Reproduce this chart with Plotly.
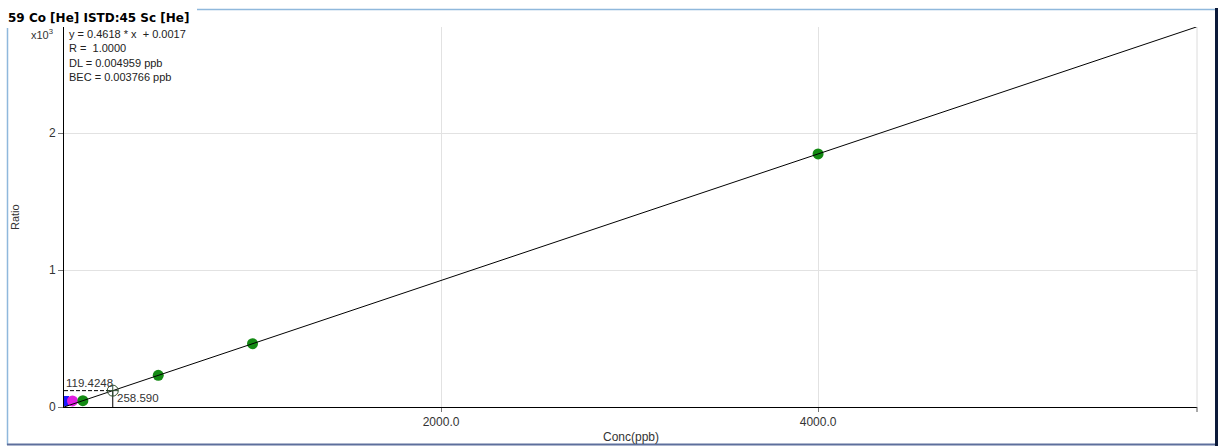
import plotly.graph_objects as go

# Calibration standards (concentration in ppb, ratio to ISTD)
std_conc = [100, 500, 1000, 4000]
std_ratio = [46.2, 231.0, 461.8, 1847.2]

# Blank and low-level QC points
blank_conc = [0]
blank_ratio = [44.0]
qc_conc = [45]
qc_ratio = [44.0]

# Regression result
slope = 0.4618
intercept = 0.0017
fit_x = [0, 6010]

# Read-back point
probe_conc = 258.590
probe_ratio = 119.4248

info_lines = ["y = 0.4618 * x  + 0.0017", "R =  1.0000",
              "DL = 0.004959 ppb", "BEC = 0.003766 ppb"]

SCALE = 1000.0  # y axis shown in units of x10^3

W, H = 1222, 447
L, R, T, B = 64, 25, 27, 40
PW, PH = W - L - R, H - T - B


def xp(px):
    return (px - L) / PW


def yp(py):
    return (H - B - py) / PH


FONT = "Liberation Sans"

fig = go.Figure()

fig.add_trace(go.Scatter(
    x=blank_conc, y=[v / SCALE for v in blank_ratio], mode="markers",
    marker=dict(symbol="square", size=10, color="#1a1aff")))
fig.add_trace(go.Scatter(
    x=qc_conc, y=[v / SCALE for v in qc_ratio], mode="markers",
    marker=dict(symbol="circle", size=11, color="#e01ee0")))
fig.add_trace(go.Scatter(
    x=std_conc, y=[v / SCALE for v in std_ratio], mode="markers",
    marker=dict(symbol="circle", size=11, color="#138a13")))

# Fitted calibration line, drawn over the markers
fig.add_trace(go.Scatter(
    x=fit_x, y=[(slope * v + intercept) / SCALE for v in fit_x],
    mode="lines", line=dict(color="black", width=1), hoverinfo="skip"))

# Dashed read-back guide and vertical drop line
fig.add_trace(go.Scatter(
    x=[0, probe_conc], y=[probe_ratio / SCALE] * 2, mode="lines",
    line=dict(color="black", width=1, dash="4px,2px"), hoverinfo="skip"))
fig.add_trace(go.Scatter(
    x=[probe_conc, probe_conc], y=[-0.02, probe_ratio / SCALE], mode="lines",
    line=dict(color="black", width=1), hoverinfo="skip", cliponaxis=False))
fig.add_trace(go.Scatter(
    x=[probe_conc], y=[probe_ratio / SCALE], mode="markers",
    marker=dict(symbol="circle-cross-open", size=11,
                color="#2f4f2f", line=dict(width=1))))

fig.add_annotation(x=2, y=probe_ratio / SCALE, xref="x", yref="y",
                   text=f"{probe_ratio:.4f}", showarrow=False,
                   xanchor="left", yanchor="bottom", yshift=0,
                   font=dict(family=FONT, size=11.5, color="#333333"))
fig.add_annotation(x=probe_conc, y=0, xref="x", yref="y",
                   text=f"{probe_conc:.3f}", showarrow=False,
                   xanchor="left", yanchor="bottom", xshift=2, yshift=1,
                   font=dict(family=FONT, size=11.5, color="#333333"))

# Title, exponent label and regression info
fig.add_annotation(x=xp(6), y=yp(18), xref="paper", yref="paper",
                   text="<b>59 Co [He] ISTD:45 Sc [He]</b>", showarrow=False,
                   xanchor="left", yanchor="middle",
                   font=dict(family="DejaVu Sans", size=12, color="black"))
fig.add_annotation(x=xp(55), y=yp(34), xref="paper", yref="paper",
                   text="x10<sup>3</sup>", showarrow=False,
                   xanchor="right", yanchor="middle",
                   font=dict(family=FONT, size=11, color="#333333"))
for i, line in enumerate(info_lines):
    fig.add_annotation(x=xp(67), y=yp(34 + i * 14.3), xref="paper", yref="paper",
                       text=line, showarrow=False, xanchor="left", yanchor="middle",
                       font=dict(family=FONT, size=11, color="#222222"))

# Axis titles
fig.add_annotation(x=0.5, y=yp(437), xref="paper", yref="paper",
                   text="Conc(ppb)", showarrow=False,
                   xanchor="center", yanchor="middle",
                   font=dict(family=FONT, size=12, color="#333333"))
fig.add_annotation(x=xp(15), y=0.5, xref="paper", yref="paper",
                   text="Ratio", showarrow=False, textangle=-90,
                   xanchor="center", yanchor="middle",
                   font=dict(family=FONT, size=11, color="#333333"))

# Enclosing frame and right-hand plot edge
shapes = [
    dict(type="line", xref="paper", yref="paper", x0=xp(7.5), x1=xp(7.5),
         y0=yp(28), y1=yp(445), line=dict(color="#8fb8dc", width=1.5)),
    dict(type="line", xref="paper", yref="paper", x0=xp(197), x1=xp(1215),
         y0=yp(9.5), y1=yp(9.5), line=dict(color="#8fb8dc", width=1.5)),
    dict(type="line", xref="paper", yref="paper", x0=xp(7), x1=xp(1216),
         y0=yp(444.5), y1=yp(444.5), line=dict(color="#5d6f9c", width=2)),
    dict(type="line", xref="paper", yref="paper", x0=xp(1216.5), x1=xp(1216.5),
         y0=yp(8), y1=yp(446), line=dict(color="#0c1a3a", width=3)),
    dict(type="line", xref="paper", yref="paper", x0=1, x1=1,
         y0=0, y1=1, line=dict(color="#dcdcdc", width=1)),
    dict(type="line", xref="paper", yref="paper", x0=1, x1=1,
         y0=yp(407), y1=yp(412), line=dict(color="#555555", width=1)),
]

fig.update_layout(
    width=W, height=H,
    margin=dict(l=L, r=R, t=T, b=B, autoexpand=False),
    paper_bgcolor="white", plot_bgcolor="white",
    showlegend=False,
    shapes=shapes,
    font=dict(family=FONT, size=12, color="#333333"),
    xaxis=dict(
        range=[0, 6010], tickvals=[2000, 4000], ticktext=["2000.0", "4000.0"],
        showgrid=True, gridcolor="#e2e2e2", gridwidth=1,
        showline=True, linecolor="black", linewidth=1,
        ticks="outside", ticklen=4, tickcolor="#777777",
        zeroline=False, automargin=False,
        tickfont=dict(family=FONT, size=12, color="#333333"),
    ),
    yaxis=dict(
        range=[0, PH / 137.0], tickvals=[0, 1, 2], ticktext=["0", "1", "2"],
        showgrid=True, gridcolor="#e2e2e2", gridwidth=1,
        showline=True, linecolor="black", linewidth=1,
        ticks="outside", ticklen=5, tickcolor="#777777",
        zeroline=False, automargin=False,
        tickfont=dict(family=FONT, size=12, color="#333333"),
    ),
)

fig.write_html("out.html")
